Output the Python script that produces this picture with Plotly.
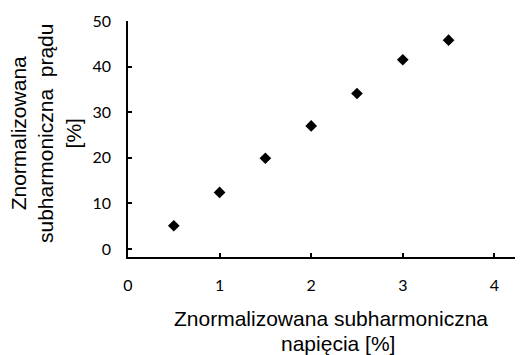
import plotly.graph_objects as go

x_vals = [0.5, 1.0, 1.5, 2.0, 2.5, 3.0, 3.5]
y_vals = [5.1, 12.4, 19.9, 27.0, 34.1, 41.5, 45.8]
x_ticks = [0, 1, 2, 3, 4]
y_ticks = [0, 10, 20, 30, 40, 50]

fig = go.Figure()
fig.add_trace(go.Scatter(
    x=x_vals, y=y_vals, mode="markers",
    marker=dict(symbol="diamond", size=9, color="black"),
    showlegend=False,
))

# page has an 8px body margin; compensate
OFF = 8
W, H = 523 - OFF, 355 - OFF
L, T = 128 - OFF, 21 - OFF
R = W - (520 - OFF)
B = H - (257 - OFF)
pw, ph = W - L - R, H - T - B

def px(xp):
    return (xp - 128) / pw

def py(yp):
    return (257 - yp) / ph

tickfont = dict(family="Lato, Carlito, Calibri, sans-serif", size=16, color="black")
titlefont = dict(family="Liberation Sans, Arial, sans-serif", size=21, color="black")
fig.update_layout(
    width=W, height=H,
    margin=dict(l=L, r=R, t=T, b=B, pad=0),
    paper_bgcolor="white", plot_bgcolor="white",
    xaxis=dict(range=[0, 4.28], tickvals=x_ticks, ticks="inside", ticklen=4, tickwidth=1.5,
               tickcolor="black", showline=True, linecolor="black", linewidth=1.5,
               showgrid=False, zeroline=False, tickfont=tickfont, ticklabelstandoff=13),
    yaxis=dict(range=[-1.75, 50], tickvals=y_ticks, ticks="inside", ticklen=4, tickwidth=1.5,
               tickcolor="black", showline=True, linecolor="black", linewidth=1.5,
               showgrid=False, zeroline=False, tickfont=tickfont, ticklabelstandoff=12),
    annotations=[
        dict(text="Znormalizowana<br>subharmoniczna  prądu<br>[%]", textangle=-90,
             xref="paper", yref="paper", x=px(46), y=py(134),
             xanchor="center", yanchor="middle", showarrow=False, font=titlefont),
        dict(text="Znormalizowana subharmoniczna",
             xref="paper", yref="paper", x=px(331), y=py(318.6),
             xanchor="center", yanchor="middle", showarrow=False, font=titlefont),
        dict(text="napięcia [%]",
             xref="paper", yref="paper", x=px(338), y=py(343.5),
             xanchor="center", yanchor="middle", showarrow=False, font=titlefont),
    ],
)
fig.write_html("out.html")
